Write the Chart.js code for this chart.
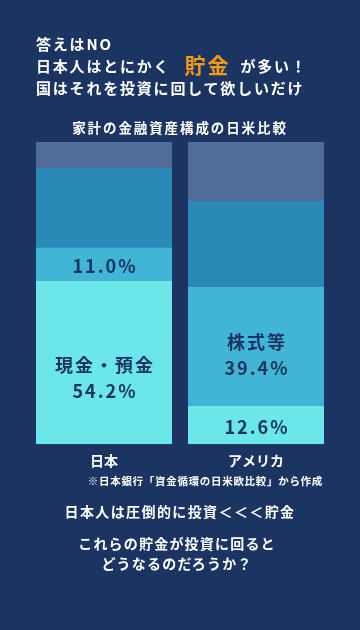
<!DOCTYPE html>
<html lang="ja">
<head>
<meta charset="utf-8">
<script src="https://cdn.jsdelivr.net/npm/chart.js@4"></script>
<style>
  html, body { margin: 0; padding: 0; }
  body {
    width: 360px; height: 630px; overflow: hidden; position: relative;
    background: #1b3461; color: #fff;
    font-family: "Noto Sans CJK JP", "Noto Sans", sans-serif; font-weight: bold;
  }
  #wrap { position: absolute; left: 0; top: 0; width: 360px; height: 630px; }
  .t { position: absolute; white-space: nowrap; pointer-events: none; }
  .head { left: 36px; font-size: 15px; letter-spacing: 1.8px; height: 22px; line-height: 22px; }
  .big { color: #f39a16; font-size: 21px; letter-spacing: 2px; margin: 0 10px 0 14px; line-height: 22px; vertical-align: top; position: relative; top: -2px; }
  .center { left: 0; width: 360px; text-align: center; }
</style>
</head>
<body>
<div id="wrap"><canvas id="barChart"></canvas></div>

<div class="t head" style="top:33px">答えはNO</div>
<div class="t head" style="top:55px">日本人はとにかく<span class="big">貯金</span>が多い！</div>
<div class="t head" style="top:77px">国はそれを投資に回して欲しいだけ</div>
<div class="t center" style="top:117px;font-size:13.5px;letter-spacing:1.9px;line-height:20px">家計の金融資産構成の日米比較</div>
<div class="t" style="top:472px;right:37px;font-size:10.5px;letter-spacing:0.7px;line-height:18px">※日本銀行「資金循環の日米欧比較」から作成</div>
<div class="t center" style="top:501px;font-size:14px;letter-spacing:1.4px;line-height:20px">日本人は圧倒的に投資＜＜＜貯金</div>
<div class="t center" style="top:533px;left:-3px;font-size:14px;letter-spacing:1.2px;line-height:20px">これらの貯金が投資に回ると</div>
<div class="t center" style="top:553px;left:-3px;font-size:14px;letter-spacing:1.2px;line-height:20px">どうなるのだろうか？</div>

<script>
// 資産の種類 (下から順に積む)
const countries = ['日本', 'アメリカ'];
const assetNames = ['現金・預金', '株式等', '保険・年金', 'その他'];
const cashDeposits = [54.2, 12.6];
const stocks = [11.0, 39.4];
const insurance = [26.2, 28.5];
const others = [8.6, 19.5];

const segColors = ['#6be7e9', '#41b5d5', '#2b89b8', '#4f6b98'];
const labelColor = '#1b3461';
const fontFamily = '"Noto Sans CJK JP", "Noto Sans", sans-serif';

// 現金と株式のところだけ値を書く。大きい区画は名前も書く
const segmentLabels = {
  id: 'segmentLabels',
  afterDatasetsDraw(chart, args, opts) {
    const ctx = chart.ctx;
    ctx.save();
    ctx.fillStyle = labelColor;
    ctx.textAlign = 'center';
    ctx.textBaseline = 'middle';
    ctx.font = 'bold 18px ' + fontFamily;
    ctx.letterSpacing = '2px';
    [0, 1].forEach(di => {
      const ds = chart.data.datasets[di];
      chart.getDatasetMeta(di).data.forEach((bar, i) => {
        const v = ds.data[i];
        const cx = bar.x + 1;
        const cy = (bar.y + bar.base) / 2;
        const valueText = v.toFixed(1) + '%';
        if (v >= 30) {
          const c = cy + opts.shift[i];
          ctx.fillText(ds.label, cx, c - 4);
          ctx.fillText(valueText, cx, c + 22);
        } else {
          ctx.fillText(valueText, cx, cy + 2);
        }
      });
    });
    ctx.restore();
  }
};

const values = [cashDeposits, stocks, insurance, others];

const data = {
  labels: countries,
  datasets: values.map((arr, k) => ({
    label: assetNames[k],
    data: arr,
    backgroundColor: segColors[k],
    borderWidth: 0,
    categoryPercentage: 1,
    barPercentage: 136 / 152,
  }))
};

const config = {
  type: 'bar',
  data,
  options: {
    responsive: true,
    maintainAspectRatio: false,
    animation: false,
    layout: { padding: { left: 28, right: 28, top: 142, bottom: 153 } },
    plugins: {
      legend: { display: false },
      tooltip: { enabled: false },
      segmentLabels: { shift: [7, 0] }
    },
    scales: {
      x: {
        stacked: true,
        grid: { display: false, drawTicks: false },
        border: { display: false },
        ticks: { color: '#ffffff', padding: 8, font: { family: fontFamily, size: 14, weight: 'bold' } }
      },
      y: { stacked: true, display: false, min: 0, max: 100 }
    }
  },
  plugins: [segmentLabels]
};

window.addEventListener('load', function () {
  new Chart(document.getElementById('barChart').getContext('2d'), config);
});
</script>
</body>
</html>
